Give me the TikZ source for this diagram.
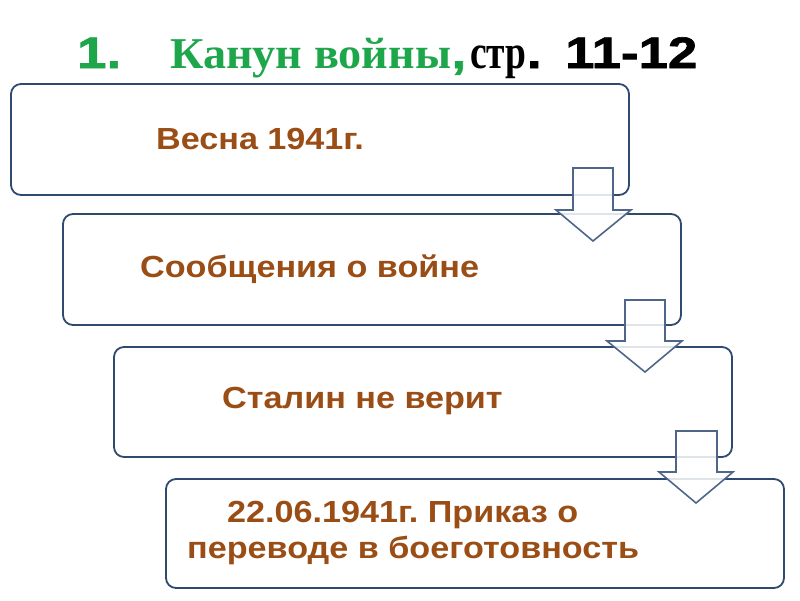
\documentclass[tikz,border=0pt]{standalone}
\usepackage{fontspec}
\setmainfont{Liberation Sans}
\newfontfamily\serifbf[FakeStretch=1.05]{Liberation Serif}
\newfontfamily\serifnarrow[FakeStretch=0.78]{Liberation Serif}
\newfontfamily\stagefont[FakeStretch=1.12]{Liberation Sans}
\newfontfamily\heavyfont[FakeStretch=1.2, FakeBold=1.5]{Liberation Sans}
\definecolor{boxline}{HTML}{2E4A6E}
\definecolor{arrowline}{HTML}{4F6688}
\definecolor{brownt}{HTML}{9A4E16}
\definecolor{greent}{HTML}{1EA64B}
\frenchspacing
\tikzset{
  stagebox/.style={draw=boxline, line width=1.8pt, rounded corners=10pt, fill=white},
  downarrow/.style={draw=arrowline, line width=1.6pt, line join=miter, fill=white, fill opacity=0.85},
  stagetext/.style={text=brownt, font=\stagefont\fontsize{30.5}{36}\selectfont\bfseries, inner sep=0pt, anchor=base west},
  titlesans/.style={font=\heavyfont\fontsize{44}{48}\selectfont\bfseries, inner sep=0pt, anchor=base west},
  titleserif/.style={font=\serifbf\fontsize{44}{48}\selectfont\bfseries, inner sep=0pt, anchor=base west},
  titlepage/.style={font=\serifnarrow\fontsize{48}{50}\selectfont\bfseries, inner sep=0pt, anchor=base west}
}
\begin{document}
\begin{tikzpicture}[x=1pt,y=-1pt]
\frenchspacing
\useasboundingbox (0,0) rectangle (800,600);
% title
\node[titlesans, text=greent] (tnum) at (77,68) {1.};
\node[titleserif, text=greent] (ttext) at (170,68) {Канун войны};
\node[titlesans, text=greent, anchor=base west] (tcomma) at (ttext.base east) {,};
\node[titlepage, text=black] (tpage) at (470,68) {стр};
\node[titlesans, text=black, anchor=base west] (tdot) at (tpage.base east) {.};
\node[titlesans, text=black] (tnums) at (565,68) {11-12};
% boxes
\draw[stagebox] (11,84) rectangle (629,195);
\draw[stagebox] (63,214) rectangle (681,325);
\draw[stagebox] (114,347) rectangle (732,457);
\draw[stagebox] (166,479) rectangle (784,588);
% arrows
\draw[downarrow] (573,168) -- (613,168) -- (613,210) -- (631,210) -- (593,241) -- (556,210) -- (573,210) -- cycle;
\draw[downarrow] (625,300) -- (665,300) -- (665,341) -- (682,341) -- (645,372) -- (607,341) -- (625,341) -- cycle;
\draw[downarrow] (676,431) -- (717,431) -- (717,472) -- (733,472) -- (696,503) -- (659,472) -- (676,472) -- cycle;
% texts
\node[stagetext] (t1) at (156,149) {Весна 1941г.};
\node[stagetext] (t2) at (140,277) {Сообщения о войне};
\node[stagetext] (t3) at (222,408) {Сталин не верит};
\node[stagetext] (t4a) at (227,522) {22.06.1941г. Приказ о};
\node[stagetext] (t4b) at (187,558) {переводе в боеготовность};
\end{tikzpicture}
\end{document}
